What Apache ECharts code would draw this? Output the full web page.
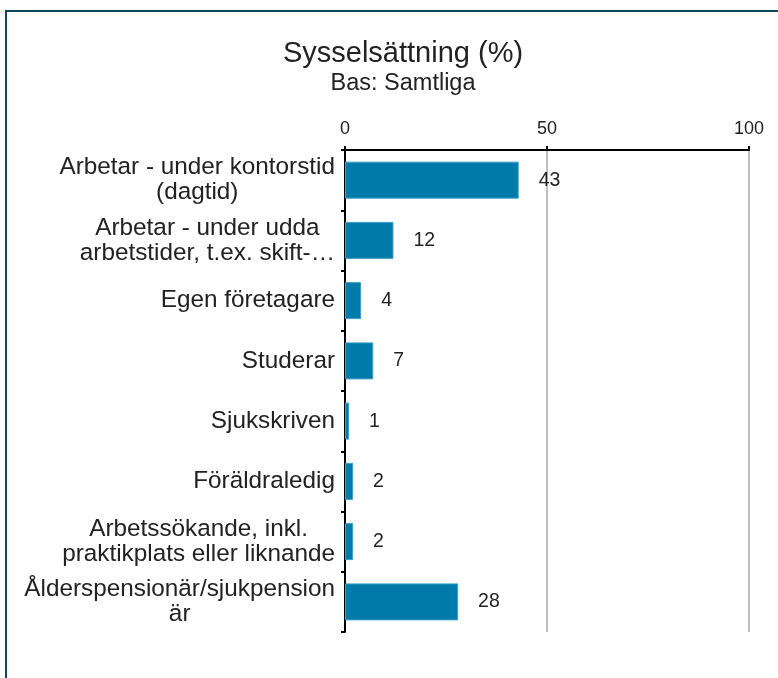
<!DOCTYPE html>
<html><head><meta charset="utf-8">
<script src="https://cdn.jsdelivr.net/npm/echarts@6/dist/echarts.min.js"></script>
<style>html,body{margin:0;padding:0;background:#fff}#c{width:778px;height:678px;position:relative}
#b{position:absolute;left:5px;top:10px;width:790px;height:700px;border:2px solid #0E4A5E;box-sizing:border-box;pointer-events:none}</style>
</head><body><div id="c"></div><div id="b"></div>
<script>
const categories = ["Arbetar - under kontorstid\n(dagtid)", "Arbetar - under udda\narbetstider, t.ex. skift-…", "Egen företagare", "Studerar", "Sjukskriven", "Föräldraledig", "Arbetssökande, inkl.\npraktikplats eller liknande", "Ålderspensionär/sjukpension\när"];
const values = [43, 12, 4, 7, 1, 2, 2, 28];
const xTicks = [0, 50, 100];
const chart = echarts.init(document.getElementById('c'), null, {renderer:'canvas'});
chart.setOption({
  animation:false,
  title:{text:'Sysselsättning (%)', subtext:'Bas: Samtliga', left:398, textAlign:'center', top:34,
    textStyle:{fontFamily:'Liberation Sans', fontSize:29, fontWeight:'normal', color:'#222'},
    subtextStyle:{fontFamily:'Liberation Sans', fontSize:23.5, color:'#222'}, itemGap:4},
  grid:{left:345, right:29, top:150, bottom:46},
  xAxis:{type:'value', position:'top', min:0, max:100, interval:50,
    axisLine:{show:true, lineStyle:{color:'#000', width:2}},
    axisTick:{show:true, inside:false, length:4, lineStyle:{color:'#000', width:2}},
    axisLabel:{fontFamily:'Liberation Sans', fontSize:18, color:'#222', margin:12,
      formatter:v=>xTicks.includes(v)?String(v):''},
    splitLine:{show:true, lineStyle:{color:'#c0c0c0', width:2}}},
  yAxis:{type:'category', data:categories, inverse:true,
    axisLine:{show:true, lineStyle:{color:'#000', width:2}},
    axisTick:{show:true, length:4, lineStyle:{color:'#000', width:2}},
    axisLabel:{color:'#222', margin:10, align:'right',
      formatter:v=>v.split('\n').map(s=>'{a|'+s+'}').join('\n'),
      rich:{a:{fontFamily:'Liberation Sans', fontSize:24.3, lineHeight:25, color:'#222', align:'center'}}}},
  series:[{type:'bar', data:values, barWidth:37, itemStyle:{color:'#007AA8', borderColor:'#3fa0c8', borderWidth:1},
    label:{show:true, position:'right', distance:20, fontFamily:'Liberation Sans', fontSize:19.5, color:'#222'}}]
});
</script></body></html>
